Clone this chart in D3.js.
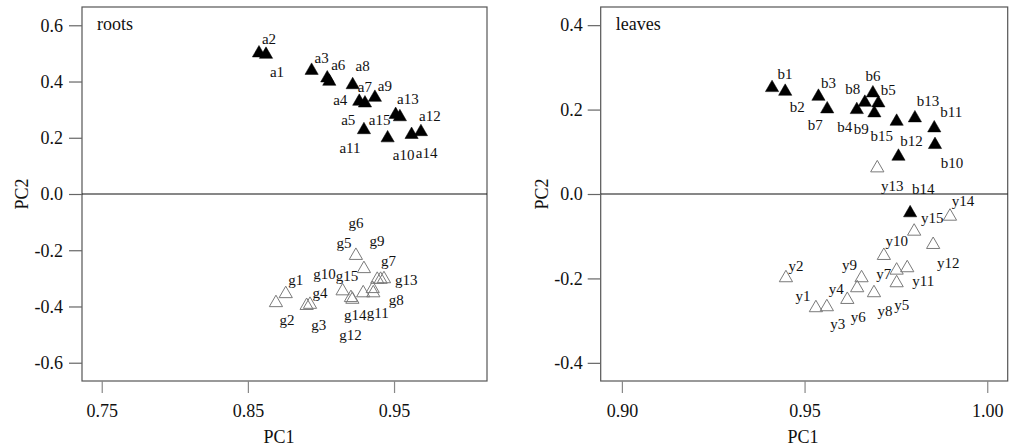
<!DOCTYPE html>
<html>
<head>
<meta charset="utf-8">
<script src="https://cdn.jsdelivr.net/npm/d3@7"></script>
<style>
  html, body { margin: 0; padding: 0; background: #ffffff; }
  svg text { font-family: "Liberation Serif", "Times New Roman", serif; fill: #111; }
</style>
</head>
<body>
<svg id="chart" width="1010" height="447"></svg>
<script>
// ---------------- DATA ----------------
// Roots: a (filled) and g (open)
const rootsALabels = ["a1","a2","a3","a4","a5","a6","a7","a8","a9","a10","a11","a12","a13","a14","a15"];
const rootsAPC1 = [0.8576,0.8624,0.8936,0.9057,0.9262,0.9043,0.9301,0.9217,0.9369,0.9456,0.9294,0.9684,0.9540,0.9620,0.9511];
const rootsAPC2 = [0.501,0.496,0.439,0.400,0.329,0.412,0.323,0.388,0.343,0.199,0.228,0.221,0.274,0.211,0.282];

const rootsGLabels = ["g1","g2","g3","g4","g5","g6","g7","g8","g9","g10","g11","g12","g13","g14","g15"];
const rootsGPC1 = [0.8759,0.8692,0.8902,0.8925,0.9294,0.9239,0.9408,0.9358,0.9431,0.9148,0.9354,0.9215,0.9385,0.9289,0.9205];
const rootsGPC2 = [-0.355,-0.387,-0.397,-0.393,-0.266,-0.219,-0.304,-0.352,-0.302,-0.345,-0.337,-0.375,-0.304,-0.352,-0.369];

// Leaves: b (filled) and y (open)
const leavesBLabels = ["b1","b2","b3","b4","b5","b6","b7","b8","b9","b10","b11","b12","b13","b14","b15"];
const leavesBPC1 = [0.9411,0.9447,0.9538,0.9643,0.9702,0.9687,0.9562,0.9665,0.9691,0.9857,0.9855,0.9757,0.9802,0.9789,0.9752];
const leavesBPC2 = [0.2516,0.2428,0.2310,0.1995,0.2154,0.2390,0.2012,0.2168,0.1917,0.1167,0.1562,0.0890,0.1799,-0.0450,0.1718];

const leavesYLabels = ["y1","y2","y3","y4","y5","y6","y7","y8","y9","y10","y11","y12","y13","y14","y15"];
const leavesYPC1 = [0.9531,0.9449,0.9561,0.9644,0.9752,0.9617,0.9752,0.9690,0.9656,0.9717,0.9781,0.9852,0.9699,0.9898,0.9800];
const leavesYPC2 = [-0.2698,-0.1988,-0.2675,-0.2225,-0.2107,-0.2502,-0.1808,-0.2343,-0.1988,-0.1460,-0.1751,-0.1200,0.0615,-0.0530,-0.0885];

// Tick labels
const rootsXTicks = [0.75, 0.85, 0.95];
const rootsYTicks = [0.6, 0.4, 0.2, 0.0, -0.2, -0.4, -0.6];
const leavesXTicks = [0.90, 0.95, 1.00];
const leavesYTicks = [0.4, 0.2, 0.0, -0.2, -0.4];

// ---------------- LAYOUT / STYLE (label offsets in px) ----------------
const offA = [[18,19],[3,-16],[10,-13],[11,18],[-11,18],[11,-13],[0,-16],[10,-19],[10,-12],[16,17],[-14,18],[9,-16],[8,-18],[15,18],[-16,5]];
const offG = [[10,-14],[11,17],[12,19],[10,-12],[-20,-26],[0,-33],[8,-19],[23,7],[-7,-38],[-18,-17],[5,24],[-2,35],[29,0],[-8,22],[-4,-22]];
const offB = [[13,-14],[12,15],[10,-14],[-12,17],[10,-13],[0,-17],[-12,16],[-12,-14],[-13,16],[17,18],[17,-16],[13,-16],[13,-17],[13,-24],[-15,14]];
const offY = [[-13,-12],[10,-12],[11,17],[-21,1],[5,22],[11,17],[-13,3],[11,18],[-12,-13],[13,-15],[16,13],[15,18],[15,18],[13,-16],[18,-14]];

const svg = d3.select("#chart");
const tri = d3.symbol().type(d3.symbolTriangle).size(76);

function panel(cfg) {
  const x = d3.scaleLinear().domain(cfg.xDomain).range([cfg.left, cfg.right]);
  const y = d3.scaleLinear().domain(cfg.yDomain).range([cfg.bottom, cfg.top]);
  const g = svg.append("g");

  // frame
  g.append("rect")
    .attr("x", cfg.left).attr("y", cfg.top)
    .attr("width", cfg.right - cfg.left).attr("height", cfg.bottom - cfg.top)
    .attr("fill", "none").attr("stroke", "#555").attr("stroke-width", 1.2);

  // zero line
  g.append("line")
    .attr("x1", cfg.left).attr("x2", cfg.right)
    .attr("y1", y(0)).attr("y2", y(0))
    .attr("stroke", "#111").attr("stroke-width", 1.2);

  // x axis
  const xa = g.append("g").attr("transform", `translate(0,${cfg.bottom})`)
    .call(d3.axisBottom(x).tickValues(cfg.xTicks).tickSize(12).tickPadding(11)
      .tickFormat(cfg.xFmt));
  xa.select(".domain").remove();
  xa.selectAll("line").attr("stroke", "#888").attr("stroke-width", 1.2);
  xa.selectAll("text").style("font-size", "18px").attr("fill", "#111")
    .style("font-family", '"Liberation Serif", serif');

  // y axis
  const ya = g.append("g").attr("transform", `translate(${cfg.left},0)`)
    .call(d3.axisLeft(y).tickValues(cfg.yTicks).tickSize(13).tickPadding(cfg.yPad)
      .tickFormat(d3.format(".1f")));
  ya.select(".domain").remove();
  ya.selectAll("line").attr("stroke", "#666").attr("stroke-width", 1.2);
  ya.selectAll("text").style("font-size", "18px").attr("fill", "#111")
    .style("font-family", '"Liberation Serif", serif')
    .text(d => d3.format(".1f")(d).replace("−", "-"));

  // axis titles
  g.append("text").attr("x", cfg.xTitleX).attr("y", 443)
    .attr("text-anchor", "middle").style("font-size", "18px").text("PC1");
  g.append("text")
    .attr("transform", `translate(${cfg.yTitleX},${y(0)}) rotate(-90)`)
    .attr("text-anchor", "middle").attr("dy", "0.35em")
    .style("font-size", "18px").text("PC2");

  // panel title
  g.append("text").attr("x", cfg.left + 15).attr("y", 30)
    .style("font-size", "18px").text(cfg.title);

  // series
  cfg.series.forEach(s => {
    const pts = s.pc1.map((v, i) => ({x: v, y: s.pc2[i], label: s.labels[i], off: s.off[i]}));
    g.append("g").selectAll("path").data(pts).join("path")
      .attr("d", tri)
      .attr("transform", d => `translate(${x(d.x)},${y(d.y)})`)
      .attr("fill", s.filled ? "#000" : "#fff")
      .attr("fill-opacity", s.filled ? 1 : 0)
      .attr("stroke", s.filled ? "#000" : "#7a7a7a")
      .attr("stroke-width", s.filled ? 0.5 : 1);
    g.append("g").selectAll("text").data(pts).join("text")
      .attr("x", d => x(d.x) + d.off[0])
      .attr("y", d => y(d.y) + d.off[1])
      .attr("dy", "0.35em")
      .attr("text-anchor", "middle")
      .style("font-size", "15px")
      .text(d => d.label);
  });
}

panel({
  left: 82, right: 487, top: 7, bottom: 381,
  xDomain: [0.7365, 1.0136], yDomain: [-0.665, 0.665],
  xTicks: rootsXTicks, yTicks: rootsYTicks, xFmt: d3.format(".2f"),
  yPad: 6, xTitleX: 279, yTitleX: 22, title: "roots",
  series: [
    {pc1: rootsAPC1, pc2: rootsAPC2, labels: rootsALabels, off: offA, filled: true},
    {pc1: rootsGPC1, pc2: rootsGPC2, labels: rootsGLabels, off: offG, filled: false}
  ]
});

panel({
  left: 600.7, right: 1007.7, top: 7, bottom: 381,
  xDomain: [0.8942, 1.0056], yDomain: [-0.443, 0.443],
  xTicks: leavesXTicks, yTicks: leavesYTicks, xFmt: d3.format(".2f"),
  yPad: 5, xTitleX: 803, yTitleX: 542, title: "leaves",
  series: [
    {pc1: leavesBPC1, pc2: leavesBPC2, labels: leavesBLabels, off: offB, filled: true},
    {pc1: leavesYPC1, pc2: leavesYPC2, labels: leavesYLabels, off: offY, filled: false}
  ]
});
</script>
</body>
</html>
